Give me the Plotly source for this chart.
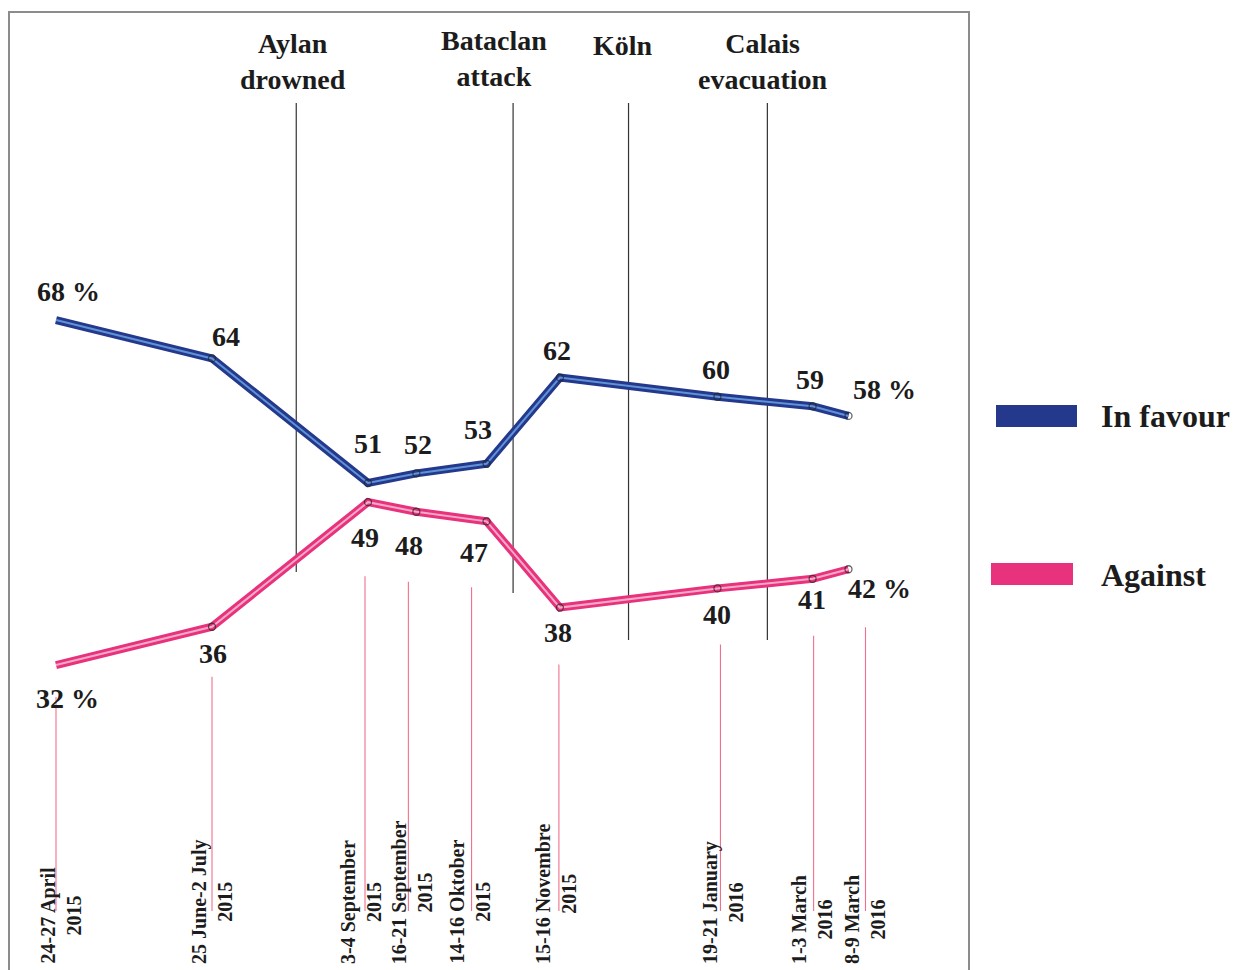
import plotly.graph_objects as go

# ---------------- data ----------------
dates = ["24-27 April<br>2015", "25 June-2 July<br>2015", "3-4 September<br>2015",
         "16-21 September<br>2015", "14-16 Oktober<br>2015", "15-16 Novembre<br>2015",
         "19-21 January<br>2016", "1-3 March<br>2016", "8-9 March<br>2016"]
timeline = [0, 10, 20, 23.1, 27.6, 32.3, 42.4, 48.5, 50.8]   # schematic (non-linear) timeline position
in_favour = [68, 64, 51, 52, 53, 62, 60, 59, 58]
against = [32, 36, 49, 48, 47, 38, 40, 41, 42]
events = ["Aylan<br>drowned", "Bataclan<br>attack", "Köln", "Calais<br>evacuation"]
event_pos = [15.4, 29.3, 36.7, 45.6]
series_names = ["In favour", "Against"]

# ---------------- layout / style ----------------
W, H = 1236, 970
XR = [-3.59, 75.64]
YR = [0.18, 101.4]
PXU_X = W / (XR[1] - XR[0])
PXU_Y = H / (YR[1] - YR[0])

FONT = "Liberation Serif, Times New Roman, serif"
TXT = "#1c1c1c"
BLUE, BLUE_IN = "#25398c", "#5e93d8"
PINK, PINK_IN = "#e8327d", "#f7a9c6"
CONN = "#f0708c"

fav_off = [(12, -27), (14, -20), (0, -37), (2, -27), (-9, -32), (-3, -25), (-1, -25), (-3, -25), (36, -24)]
ag_off = [(11, 35), (1, 29), (-3, 37), (-7, 36), (-13, 33), (-2, 27), (0, 28), (-1, 23), (31, 21)]
conn_dx = [0, 0, -3, -8, -15, -1, 3, 1, 17]
conn_gap = [32, 50, 74, 70, 66, 57, 56, 57, 58]
date_lbl_dx = [4, 0, -7, -4, -17, -4, 5, -1, 16]
event_bottom_px = [572, 593, 640, 640]
event_top_px = 103
event_lbl_dx = [-3, -19, -6, -4]
event_lbl_y = [61, 58, 45, 62]


def xp(px):
    return px / W


def yp(py):
    return 1 - py / H


def v_of_py(py):
    return YR[1] - py / PXU_Y


fig = go.Figure()

marker_sizes = [0] + [7] * (len(timeline) - 1)
for vals, outer, inner, name in [(in_favour, BLUE, BLUE_IN, series_names[0]),
                                 (against, PINK, PINK_IN, series_names[1])]:
    fig.add_trace(go.Scatter(x=timeline, y=vals, mode="lines", name=name,
                             line=dict(color=outer, width=8), showlegend=False,
                             hoverinfo="skip"))
    fig.add_trace(go.Scatter(x=timeline, y=vals, mode="lines+markers", name=name,
                             line=dict(color=inner, width=2),
                             marker=dict(symbol="circle-open", size=marker_sizes,
                                         color="#222222", line=dict(width=1.3)),
                             showlegend=False))

shapes = []
annotations = []

# frame
shapes.append(dict(type="rect", xref="paper", yref="paper",
                   x0=xp(9), x1=xp(969), y0=-0.1, y1=yp(12),
                   line=dict(color="#8c8c8c", width=2), layer="below"))

# event lines and labels
for name, pos, bot, ldx, ly in zip(events, event_pos, event_bottom_px, event_lbl_dx, event_lbl_y):
    shapes.append(dict(type="line", xref="x", yref="paper", x0=pos, x1=pos,
                       y0=yp(bot), y1=yp(event_top_px),
                       line=dict(color="#333333", width=1.2), layer="below"))
    annotations.append(dict(x=pos, xref="x", y=yp(ly), yref="paper", text=name,
                            showarrow=False, xshift=ldx, xanchor="center", yanchor="middle",
                            align="center",
                            font=dict(family=FONT, size=28, color=TXT, weight="bold")))

# value labels
n = len(timeline)
for i in range(n):
    suffix = " %" if i in (0, n - 1) else ""
    dx, dy = fav_off[i]
    annotations.append(dict(x=timeline[i], y=in_favour[i], xref="x", yref="y",
                            text=f"{in_favour[i]}{suffix}", showarrow=False,
                            xshift=dx, yshift=-dy + 2, xanchor="center", yanchor="middle",
                            font=dict(family=FONT, size=28, color=TXT, weight="bold")))
    dx, dy = ag_off[i]
    annotations.append(dict(x=timeline[i], y=against[i], xref="x", yref="y",
                            text=f"{against[i]}{suffix}", showarrow=False,
                            xshift=dx, yshift=-dy + 2, xanchor="center", yanchor="middle",
                            font=dict(family=FONT, size=28, color=TXT, weight="bold")))

# connector lines to the date labels + rotated date labels
for i in range(n):
    xc = timeline[i] + conn_dx[i] / PXU_X
    shapes.append(dict(type="line", xref="x", yref="y", x0=xc, x1=xc,
                       y0=against[i] - conn_gap[i] / PXU_Y, y1=v_of_py(911),
                       line=dict(color=CONN, width=1.1), layer="below"))
    annotations.append(dict(x=timeline[i], xref="x", y=yp(966), yref="paper", text=dates[i],
                            showarrow=False, textangle=-90, xshift=date_lbl_dx[i],
                            xanchor="center", yanchor="bottom", align="center",
                            font=dict(family=FONT, size=20, color=TXT, weight="bold")))

# legend (manual)
for (x0, x1, y0, y1), color, name, ty in [((996, 1077, 405, 427), BLUE, series_names[0], 416),
                                          ((991, 1073, 563, 585), PINK, series_names[1], 575)]:
    shapes.append(dict(type="rect", xref="paper", yref="paper",
                       x0=xp(x0), x1=xp(x1), y0=yp(y1), y1=yp(y0),
                       fillcolor=color, line=dict(width=0)))
    annotations.append(dict(x=xp(1099), y=yp(ty), xref="paper", yref="paper", text=name,
                            showarrow=False, xanchor="left", yanchor="middle",
                            font=dict(family=FONT, size=32, color=TXT, weight="bold")))

fig.update_layout(
    width=W, height=H,
    margin=dict(l=0, r=0, t=0, b=0),
    paper_bgcolor="white", plot_bgcolor="white",
    xaxis=dict(range=XR, visible=False, fixedrange=True),
    yaxis=dict(range=YR, visible=False, fixedrange=True),
    shapes=shapes, annotations=annotations,
    showlegend=False,
)

fig.write_html("out.html", config={"displayModeBar": False},
               post_script="document.body.style.margin='0px';document.body.style.overflow='hidden';")
